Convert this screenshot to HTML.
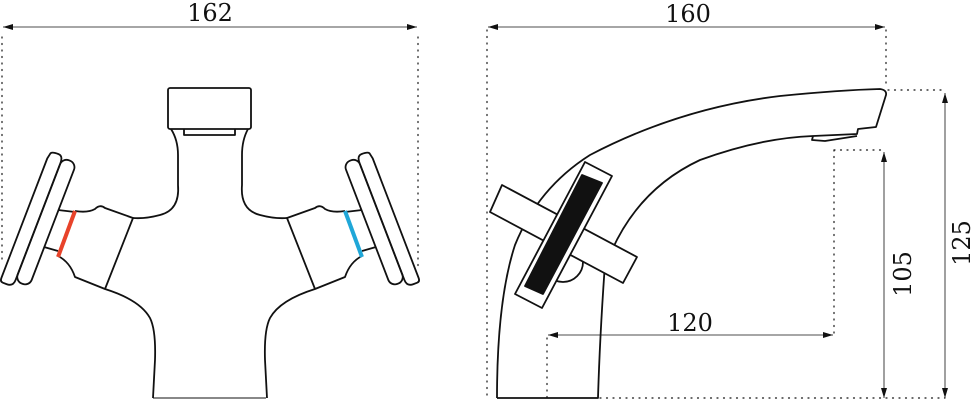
<!DOCTYPE html>
<html><head><meta charset="utf-8"><style>
html,body{margin:0;padding:0;background:#fff;}
svg{display:block;}
text{font-family:"DejaVu Serif","Liberation Serif",serif;fill:#111;}
</style></head><body>
<svg width="972" height="401" viewBox="0 0 972 401" xmlns="http://www.w3.org/2000/svg">
<defs>
<marker id="a" viewBox="0 0 10 6" refX="10" refY="3" markerWidth="20" markerHeight="6" markerUnits="userSpaceOnUse" orient="auto-start-reverse"><path d="M0,0L10,3L0,6Z" fill="#111"/></marker>
</defs>
<g fill="none" stroke="#111" stroke-width="1.2" stroke-dasharray="1 5.5" stroke-linecap="round">
<line x1="2" y1="37" x2="2" y2="262"/>
<line x1="418" y1="37" x2="418" y2="270"/>
<line x1="487" y1="30" x2="487" y2="398"/>
<line x1="886" y1="30" x2="886" y2="88"/>
<line x1="888" y1="90" x2="945" y2="90"/>
<line x1="600" y1="398" x2="945" y2="398"/>
<line x1="547" y1="338" x2="547" y2="398"/>
<line x1="834" y1="150" x2="834" y2="333"/>
<line x1="834" y1="150" x2="884" y2="150"/>
</g>
<g stroke="#111" stroke-width="0.8" fill="none">
<line x1="3" y1="27" x2="417" y2="27" marker-start="url(#a)" marker-end="url(#a)"/>
<line x1="488" y1="27" x2="885" y2="27" marker-start="url(#a)" marker-end="url(#a)"/>
<line x1="548" y1="335" x2="833" y2="335" marker-start="url(#a)" marker-end="url(#a)"/>
<line x1="884" y1="152" x2="884" y2="398" marker-start="url(#a)" marker-end="url(#a)"/>
<line x1="945" y1="93" x2="945" y2="398" marker-start="url(#a)" marker-end="url(#a)"/>
</g>
<text x="210" y="21" font-size="24" text-anchor="middle">162</text>
<text x="688" y="22" font-size="24" text-anchor="middle">160</text>
<text x="690" y="331" font-size="24" text-anchor="middle">120</text>
<text transform="translate(911,274) rotate(-90)" font-size="24" text-anchor="middle">105</text>
<text transform="translate(970,243) rotate(-90)" font-size="24" text-anchor="middle">125</text>

<!-- left view -->
<g fill="none" stroke="#111" stroke-width="1.8" stroke-linejoin="round">
<rect x="168" y="88" width="83" height="41" rx="2"/>
<path d="M184,129 L184,135 L235,135 L235,129"/>
<path d="M171,129 Q178,140 178,155 L178,185 Q180,210 160,215 Q145,219 133,218"/>
<path d="M248,129 Q242,140 242,155 L242,185 Q240,210 260,215 Q275,219 287,218"/>
<g id="lh">
<path d="M75,211 Q88,213 95,209 Q100,204 105,208 L133,218 L105,289 L75,277 Q70,262 58,256"/>
<path d="M58,210 L75,212 M44,247 L58,251"/>
<path d="M105,289 Q140,300 150,318 Q156,330 155,360 L153,398"/>
<g transform="rotate(21 40 222)">
<rect x="38" y="154" width="15" height="132" rx="7"/>
<path d="M25,155 Q25,152 33,152 Q38,152 38,160 L38,285 Q38,292 31,292 L27,292 Q24,292 24,288 L24,160 Z"/>
</g>
</g>
<use href="#lh" transform="translate(420,0) scale(-1,1)"/>
<line x1="153" y1="398" x2="266" y2="398" stroke-width="1"/>
</g>
<line x1="75" y1="211" x2="58" y2="257" stroke="#e8432a" stroke-width="4"/>
<line x1="345" y1="211" x2="362" y2="257" stroke="#1fa7d8" stroke-width="4"/>

<!-- right view -->
<g fill="none" stroke="#111" stroke-width="1.8" stroke-linejoin="round">
<path d="M497,398 Q497,300 515,245 Q538,188 590,155 Q680,108 780,96 Q840,90 880,89 Q887,90 886,95 L876,127 L858,129 L857,134 L813,136 Q760,138 700,160 Q640,188 612,250"/>
<path d="M606,250 Q600,330 598,398 L497,398"/>
<path d="M813,136 L812,140 L825,141 L857,136"/>
<circle cx="563" cy="262" r="20" fill="#fff"/>
<polygon points="502,185 637,257 623,283 490,212" fill="#fff"/>
<polygon points="585,162 612,176 542,308 515,294" fill="#fff"/>
<polygon points="582,175 602,183 543,294 525,286" fill="#111"/>
</g>
</svg>
</body></html>
